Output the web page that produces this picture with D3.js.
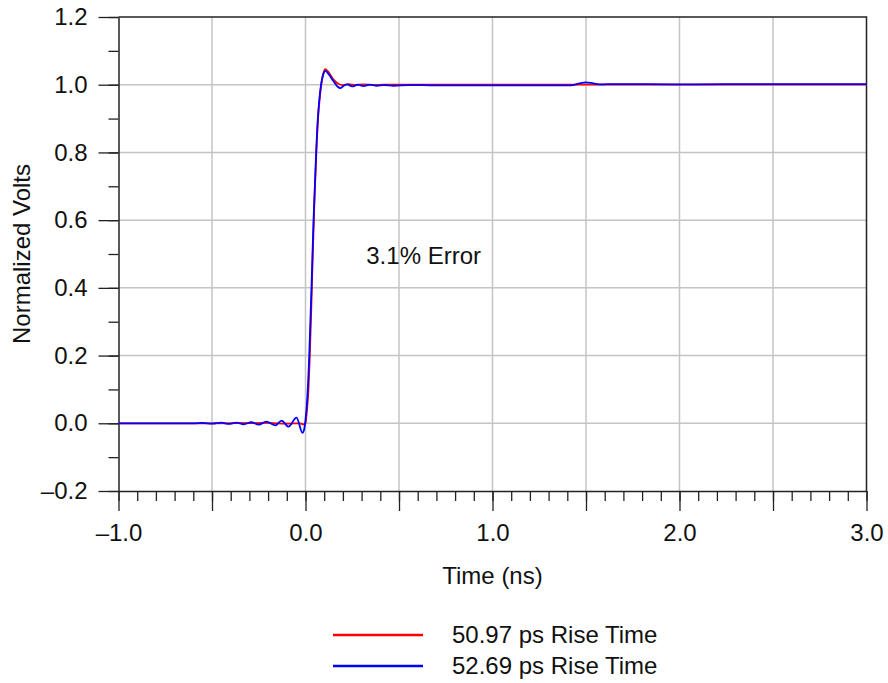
<!DOCTYPE html>
<html>
<head>
<meta charset="utf-8">
<script src="https://cdn.jsdelivr.net/npm/d3@7"></script>
<style>
  body { margin: 0; background: #fff; }
  text { font-family: "Liberation Sans", Arial, sans-serif; fill: #111; }
</style>
</head>
<body>
<div id="chart"></div>
<script>
// series (time in ns, normalized volts)
var timeRed = [-1.0, -0.5, -0.2, -0.1, -0.03, -0.01, 0.0, 0.008, 0.016, 0.023, 0.031, 0.039, 0.048, 0.058, 0.067, 0.078, 0.09, 0.105, 0.125, 0.15, 0.175, 0.2, 0.23, 0.27, 0.31, 0.36, 0.42, 0.5, 0.7, 1.0, 1.5, 2.0, 3.0];
var voltsRed = [0.0, 0.0, 0.001, -0.001, 0.0, -0.003, 0.0, 0.04, 0.1, 0.2, 0.34, 0.5, 0.66, 0.8, 0.9, 0.97, 1.02, 1.046, 1.036, 1.015, 1.003, 0.999, 1.002, 0.999, 1.001, 0.999, 1.0, 1.0, 1.0, 1.0, 1.0, 1.0, 1.0];

var timeBlue = [-1.0, -0.6, -0.55, -0.5, -0.45, -0.41, -0.37, -0.33, -0.29, -0.25, -0.21, -0.16, -0.128, -0.091, -0.048, -0.016, -0.008, 0.0, 0.008, 0.014, 0.02, 0.026, 0.032, 0.043, 0.057, 0.066, 0.073, 0.083, 0.095, 0.107, 0.125, 0.15, 0.172, 0.187, 0.2, 0.222, 0.25, 0.28, 0.31, 0.345, 0.38, 0.42, 0.47, 0.55, 0.7, 0.9, 1.2, 1.42, 1.46, 1.5, 1.54, 1.58, 1.65, 2.0, 2.5, 3.0];
var voltsBlue = [0.0, 0.0, 0.001, -0.001, 0.002, -0.002, 0.002, -0.003, 0.003, -0.004, 0.005, -0.006, 0.008, -0.01, 0.017, -0.028, -0.02, 0.01, 0.06, 0.12, 0.2, 0.3, 0.4, 0.6, 0.8, 0.9, 0.95, 1.0, 1.03, 1.041, 1.03, 1.01, 0.994, 0.99, 0.995, 1.001, 0.995, 1.0, 0.996, 1.0, 0.997, 0.999, 0.997, 0.999, 0.998, 0.998, 0.998, 0.998, 1.003, 1.007, 1.004, 1.001, 1.002, 1.001, 1.002, 1.002];

var xTickLabels = ["\u20131.0", "0.0", "1.0", "2.0", "3.0"];
var yTickLabels = ["\u20130.2", "0.0", "0.2", "0.4", "0.6", "0.8", "1.0", "1.2"];
var legendLabels = ["50.97 ps Rise Time", "52.69 ps Rise Time"];
var seriesColors = ["#ff0000", "#0000ff"];

var W = 888, H = 683;
var margin = { top: 17, right: 21.5, bottom: 192, left: 118.5 },
    width = W - margin.left - margin.right,
    height = H - margin.top - margin.bottom;
var fs = "24px";

var svg = d3.select("#chart").append("svg")
    .attr("width", W)
    .attr("height", H);

var g = svg.append("g")
    .attr("transform", "translate(" + margin.left + "," + margin.top + ")");

var x = d3.scaleLinear().domain([-1, 3]).range([0, width]);
var y = d3.scaleLinear().domain([-0.2, 1.2]).range([height, 0]);

// grid
var xGrid = d3.range(-0.5, 3, 0.5);
var yGrid = d3.range(0, 1.2, 0.2);
g.selectAll(".vgrid").data(xGrid).enter().append("line")
    .attr("x1", d => x(d)).attr("x2", d => x(d))
    .attr("y1", 0).attr("y2", height)
    .attr("stroke", "#c4c4c4").attr("stroke-width", 1.5);
g.selectAll(".hgrid").data(yGrid).enter().append("line")
    .attr("x1", 0).attr("x2", width)
    .attr("y1", d => y(d)).attr("y2", d => y(d))
    .attr("stroke", "#c4c4c4").attr("stroke-width", 1.5);

// axes: minor + major ticks, labels only on the labelled values
var xMajor = d3.range(-1, 3.01, 0.5);
var xMinor = d3.range(-1, 3.001, 0.1);
var yMajor = d3.range(-0.2, 1.21, 0.2);
var yMinor = d3.range(-0.2, 1.201, 0.1);

g.append("g").attr("transform", "translate(0," + height + ")")
    .call(d3.axisBottom(x).tickValues(xMinor).tickSize(10).tickFormat(""))
    .call(a => a.select(".domain").remove());
g.append("g").attr("transform", "translate(0," + height + ")")
    .call(d3.axisBottom(x).tickValues(xMajor).tickSize(20).tickSizeOuter(0)
        .tickFormat(d => Math.abs(d % 1) < 1e-9 ? xTickLabels[Math.round(d) + 1] : ""))
    .call(a => a.selectAll("text").attr("y", 50).attr("dy", 0).style("font-size", fs));

g.append("g")
    .call(d3.axisLeft(y).tickValues(yMinor).tickSize(10).tickFormat(""))
    .call(a => a.select(".domain").remove());
g.append("g")
    .call(d3.axisLeft(y).tickValues(yMajor).tickSize(20).tickSizeOuter(0)
        .tickFormat((d, i) => yTickLabels[i]))
    .call(a => a.selectAll("text").attr("x", -31).style("font-size", fs));

g.selectAll(".tick line").attr("stroke", "#222").attr("stroke-width", 1.3);
g.selectAll(".domain").attr("stroke", "#222").attr("stroke-width", 1.5);

// top and right frame
g.append("path")
    .attr("d", "M0,0H" + width + "V" + height)
    .attr("fill", "none").attr("stroke", "#222").attr("stroke-width", 1.5);

// lines
var line = d3.line()
    .x(d => x(d[0]))
    .y(d => y(d[1]))
    .curve(d3.curveMonotoneX);

var redData = d3.zip(timeRed, voltsRed);
var blueData = d3.zip(timeBlue, voltsBlue);

g.append("path").datum(redData)
    .attr("d", line).attr("fill", "none")
    .attr("stroke", seriesColors[0]).attr("stroke-width", 1.8);
g.append("path").datum(blueData)
    .attr("d", line).attr("fill", "none")
    .attr("stroke", seriesColors[1]).attr("stroke-width", 1.8);

// annotation
g.append("text")
    .attr("x", x(0.325)).attr("y", y(0.47))
    .style("font-size", fs)
    .text("3.1% Error");

// axis titles
svg.append("text")
    .attr("text-anchor", "middle")
    .attr("x", margin.left + x(1)).attr("y", 584)
    .style("font-size", fs)
    .text("Time (ns)");

svg.append("text")
    .attr("text-anchor", "middle")
    .attr("transform", "translate(30," + (margin.top + y(0.5)) + ") rotate(-90)")
    .style("font-size", fs)
    .text("Normalized Volts");

// legend
var legend = svg.append("g").attr("transform", "translate(333,635)");
legendLabels.forEach(function(lab, i) {
    legend.append("line")
        .attr("x1", 0).attr("x2", 90)
        .attr("y1", i * 31).attr("y2", i * 31)
        .attr("stroke", seriesColors[i]).attr("stroke-width", 2.5);
    legend.append("text")
        .attr("x", 119).attr("y", i * 31 + 8)
        .style("font-size", fs)
        .text(lab);
});
</script>
</body>
</html>
